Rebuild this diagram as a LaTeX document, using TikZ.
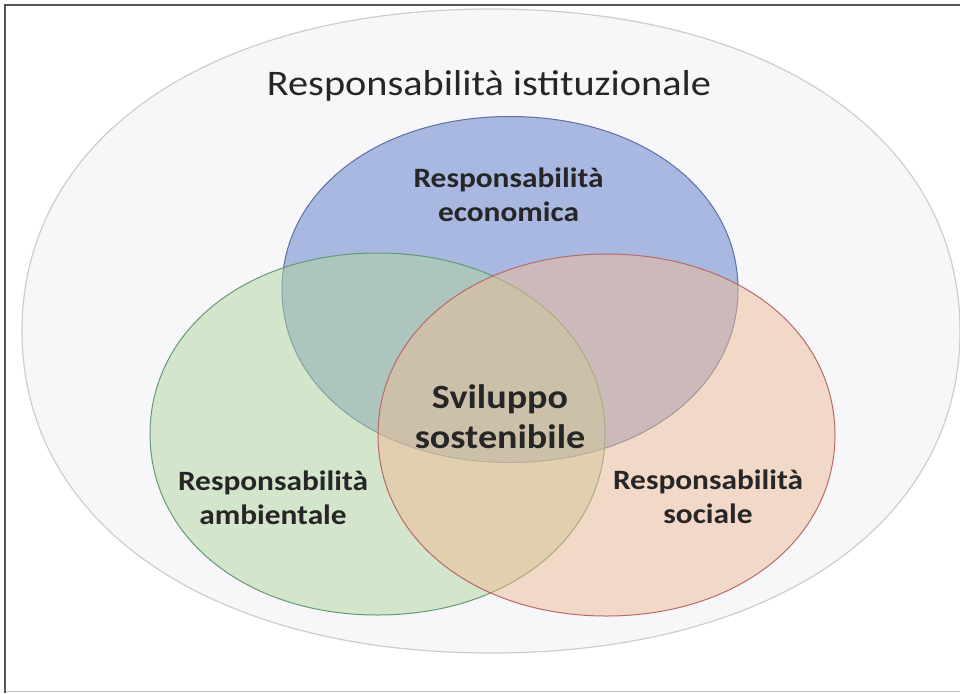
\documentclass[tikz,border=0pt]{standalone}
\usepackage{fontspec}
\setmainfont[FakeStretch=1.12]{Carlito}
\newcommand\sqellipse[5]{%
 ({#1+#3},{#2}) .. controls ({#1+#3},{#2+#5*#4}) and ({#1+#5*#3},{#2+#4}) .. ({#1},{#2+#4})
 .. controls ({#1-#5*#3},{#2+#4}) and ({#1-#3},{#2+#5*#4}) .. ({#1-#3},{#2})
 .. controls ({#1-#3},{#2-#5*#4}) and ({#1-#5*#3},{#2-#4}) .. ({#1},{#2-#4})
 .. controls ({#1+#5*#3},{#2-#4}) and ({#1+#3},{#2-#5*#4}) .. ({#1+#3},{#2}) -- cycle}
\definecolor{bigfill}{RGB}{247,247,249}
\definecolor{bigline}{RGB}{205,205,210}
\definecolor{bluefill}{RGB}{169,184,224}
\definecolor{blueline}{RGB}{92,112,165}
\definecolor{greenfill}{RGB}{176,212,158}
\definecolor{greenline}{RGB}{100,155,118}
\definecolor{redfill}{RGB}{239,187,148}
\definecolor{redline}{RGB}{185,105,105}
\definecolor{txt}{RGB}{38,38,38}
\definecolor{frameline}{RGB}{85,85,85}
\definecolor{framelight}{RGB}{190,190,190}
\tikzset{
  setline/.style={line width=1pt},
  lab/.style={text=txt, inner sep=0pt, align=center, font=\bfseries\fontsize{28}{34}\selectfont},
  centerlab/.style={text=txt, inner sep=0pt, align=center, font=\bfseries\fontsize{34}{40}\selectfont},
  titlelab/.style={text=txt, inner sep=0pt, anchor=base, font=\fontsize{36}{43}\selectfont}
}
\begin{document}
\begin{tikzpicture}[x=1pt,y=-1pt]
\useasboundingbox (0,0) rectangle (960,693);
\fill[white] (0,0) rectangle (960,693);
% frame
\draw[framelight, line width=1.5pt] (5,691.5) -- (960,691.5);
\draw[frameline, line width=2.5pt] (960,5) -- (5,5) -- (5,693);
% outer ellipse
\filldraw[fill=bigfill, draw=bigline, line width=1.2pt] \sqellipse{491}{331}{469}{322}{0.6};
% three sets
\filldraw[fill=bluefill, draw=blueline, setline] \sqellipse{510}{289.5}{228}{173}{0.575};
\filldraw[fill=greenfill, fill opacity=0.5, draw=greenline, setline] \sqellipse{377.5}{434}{227.5}{181}{0.575};
\filldraw[fill=redfill, fill opacity=0.5, draw=redline, setline] \sqellipse{606.5}{435}{228.5}{181}{0.575};
% labels
\node[titlelab] (inst) at (489,95) {Responsabilità istituzionale};
\node[lab] (eco) at (508.5,194.5) {Responsabilità\\economica};
\node[lab] (amb) at (273,498) {Responsabilità\\ambientale};
\node[lab] (soc) at (708,497) {Responsabilità\\sociale};
\node[centerlab] (svil) at (500,416.5) {Sviluppo\\sostenibile};
\end{tikzpicture}
\end{document}
